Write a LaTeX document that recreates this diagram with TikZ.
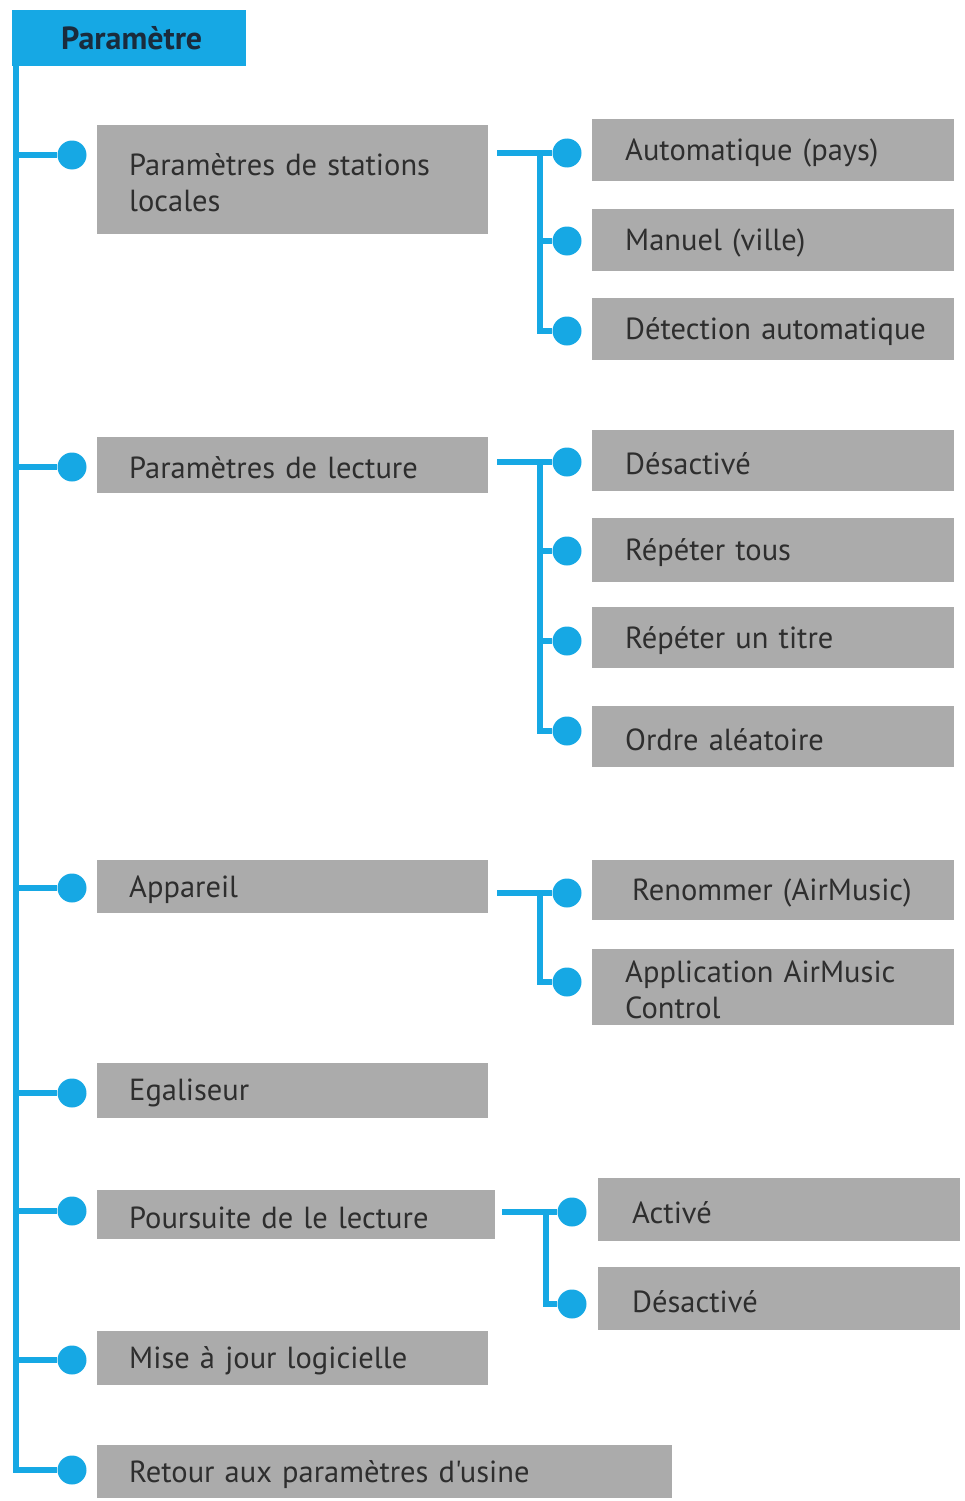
\documentclass[tikz,border=0pt]{standalone}
\usepackage{fontspec}
\setmainfont{PT Sans}[Ligatures=TeXOff]
\definecolor{cblue}{HTML}{16A8E4}
\definecolor{bgray}{HTML}{ABABAB}
\definecolor{tgray}{HTML}{2E2E2E}
\definecolor{hdark}{HTML}{1A2B3C}
\begin{document}
\begin{tikzpicture}[x=1pt,y=-1pt,
  conn/.style={draw=cblue,line width=6pt},
  dot/.style={circle,fill=cblue,minimum size=29pt,inner sep=0pt},
  box/.style={fill=bgray,anchor=north west,align=left,inner ysep=0pt,text=tgray,
    font=\fontsize{30.5}{36}\selectfont,text height=27pt},
  lone/.style={box,inner xsep=32pt,text width=327pt},
  ltwo/.style={box,inner xsep=33pt,text width=296pt}]
\useasboundingbox (0,0) rectangle (965,1501);
% header
\node[fill=cblue,anchor=north west,minimum width=234pt,minimum height=56pt,inner sep=0pt,
  font=\bfseries\fontsize{32}{36}\selectfont,text=hdark,text height=24pt] (h) at (12,10) {\hspace*{5pt}Paramètre};
\coordinate (mtop) at (16,60);
\coordinate (mbot) at (16,1470);
% level 1
\node[lone,minimum height=109pt] (a) at (97,125) {Paramètres de stations\\locales};
\node[lone,minimum height=56pt] (b) at (97,437) {Paramètres de lecture};
\node[lone,minimum height=53pt] (c) at (97,860) {Appareil};
\node[lone,minimum height=55pt] (d) at (97,1063) {Egaliseur};
\node[box,inner xsep=32pt,text width=334pt,minimum height=49pt] (e) at (97,1190) {Poursuite de le lecture};
\node[lone,minimum height=54pt] (f) at (97,1331) {Mise à jour logicielle};
\node[box,inner xsep=32pt,text width=511pt,minimum height=53pt] (g) at (97,1445) {Retour aux paramètres d'usine};
\node[dot] (da) at (72,155) {};
\node[dot] (db) at (72,467) {};
\node[dot] (dc) at (72,888) {};
\node[dot] (dd) at (72,1093) {};
\node[dot] (de) at (72,1211) {};
\node[dot] (df) at (72,1360) {};
\node[dot] (dg) at (72,1470) {};
\draw[conn] (mtop) -- (mbot) -- (dg);
\foreach \n in {da,db,dc,dd,de,df} \draw[conn] (\n -| mtop) -- (\n);
% level 2 boxes
\node[ltwo,minimum height=62pt] (a1) at (592,119) {Automatique (pays)};
\node[ltwo,minimum height=62pt] (a2) at (592,209) {Manuel (ville)};
\node[ltwo,minimum height=62pt] (a3) at (592,298) {\mbox{Détection automatique}};
\node[ltwo,minimum height=61pt] (b1) at (592,430) {Désactivé};
\node[ltwo,minimum height=64pt] (b2) at (592,518) {Répéter tous};
\node[ltwo,minimum height=61pt] (b3) at (592,607) {Répéter un titre};
\node[ltwo,minimum height=61pt] (b4) at (592,706) {Ordre aléatoire};
\node[box,inner xsep=40pt,text width=282pt,minimum height=60pt] (c1) at (592,860) {\mbox{Renommer (AirMusic)}};
\node[ltwo,minimum height=76pt] (c2) at (592,949) {\mbox{Application AirMusic}\\Control};
\node[box,inner xsep=34pt,text width=294pt,minimum height=63pt] (e1) at (598,1178) {Activé};
\node[box,inner xsep=34pt,text width=294pt,minimum height=63pt] (e2) at (598,1267) {Désactivé};
% level 2 dots
\node[dot] (da1) at (567,153) {};
\node[dot] (da2) at (567,241) {};
\node[dot] (da3) at (567,331) {};
\node[dot] (db1) at (567,462) {};
\node[dot] (db2) at (567,551) {};
\node[dot] (db3) at (567,641) {};
\node[dot] (db4) at (567,731) {};
\node[dot] (dc1) at (567,893) {};
\node[dot] (dc2) at (567,982) {};
\node[dot] (de1) at (572,1212) {};
\node[dot] (de2) at (572,1304) {};
% group connectors
\coordinate (sa) at (497,153); \coordinate (va) at (540,153);
\draw[conn] (sa) -- (da1);
\draw[conn] (va) |- (da2);
\draw[conn] (va) |- (da3);
\coordinate (sb) at (497,462); \coordinate (vb) at (540,462);
\draw[conn] (sb) -- (db1);
\draw[conn] (vb) |- (db2);
\draw[conn] (vb) |- (db3);
\draw[conn] (vb) |- (db4);
\coordinate (sc) at (497,893); \coordinate (vc) at (540,893);
\draw[conn] (sc) -- (dc1);
\draw[conn] (vc) |- (dc2);
\coordinate (se) at (502,1212); \coordinate (ve) at (546,1212);
\draw[conn] (se) -- (de1);
\draw[conn] (ve) |- (de2);
\end{tikzpicture}
\end{document}
